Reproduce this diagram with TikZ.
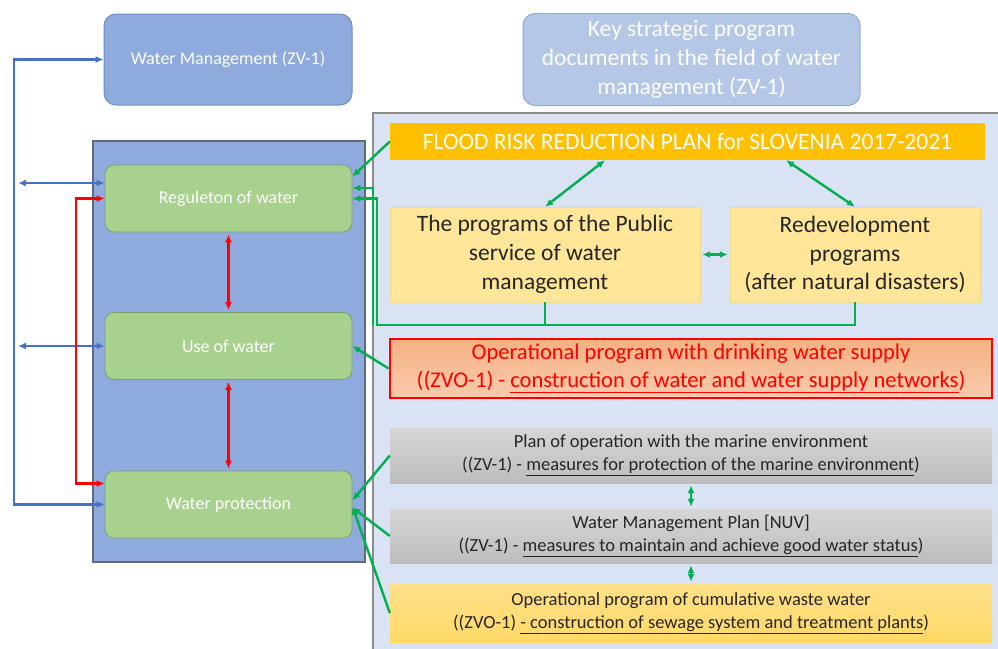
\documentclass[tikz,border=0pt]{standalone}
\usepackage{fontspec}
\setmainfont{Carlito}
\usetikzlibrary{arrows.meta}
\definecolor{wmblue}{HTML}{8FAADC}
\definecolor{wmline}{HTML}{6F8FCB}
\definecolor{keyblue}{HTML}{B4C7E7}
\definecolor{framegray}{HTML}{5E6B7D}
\definecolor{panellight}{HTML}{DAE3F3}
\definecolor{panelline}{HTML}{8C8C8C}
\definecolor{boxgreen}{HTML}{A9D18E}
\definecolor{boxgreenline}{HTML}{7E9E6A}
\definecolor{floodorange}{HTML}{FFC000}
\definecolor{progyellow}{HTML}{FFE699}
\definecolor{progline}{HTML}{F0D98C}
\definecolor{drinktop}{HTML}{F4B183}
\definecolor{drinkbottom}{HTML}{F8CBAD}
\definecolor{graytop}{HTML}{D6D6D6}
\definecolor{graybottom}{HTML}{BDBDBD}
\definecolor{wastetop}{HTML}{FFE08A}
\definecolor{wastebottom}{HTML}{FFD966}
\definecolor{textdark}{HTML}{262626}
\definecolor{arrgreen}{HTML}{00B050}
\definecolor{arrred}{HTML}{FF0000}
\definecolor{arrblue}{HTML}{4472C4}

\begin{document}
\begin{tikzpicture}[x=1pt,y=-1pt,>={Latex[length=8pt,width=7pt]}]

        \useasboundingbox (0,0) rectangle (998,648);

        % background panels
        \filldraw[fill=wmblue,draw=framegray,line width=1.5pt] (93,141) rectangle (365,562);
        \filldraw[fill=panellight,draw=panelline,line width=1.5pt] (373,113) rectangle (1010,660);

        \begin{scope}[every node/.style={rectangle,rounded corners=12pt,draw=wmline,line width=1pt,
            text=white,align=center,inner sep=0pt}]
          \node[fill=wmblue,minimum width=248pt,minimum height=91pt,
            font=\fontsize{18}{22}\selectfont] (wm) at (228,59.5) {Water Management (ZV-1)};
          \node[fill=keyblue,draw=wmblue,minimum width=337pt,minimum height=92pt,
            font=\fontsize{23.5}{28.7}\selectfont] (key) at (691.5,59.5)
            {Key strategic program\\documents in the field of water\\management (ZV-1)};
        \end{scope}

        \begin{scope}[every node/.style={rectangle,rounded corners=9pt,fill=boxgreen,draw=boxgreenline,
            line width=0.8pt,text=white,minimum width=247pt,minimum height=67pt,
            font=\fontsize{18}{22}\selectfont}]
          \node (reg)  at (228.5,198.5) {Reguleton of water};
          \node (use)  at (228.5,346)   {Use of water};
          \node (prot) at (228.5,504.5) {Water protection};
        \end{scope}

        \begin{scope}[every node/.style={rectangle,align=center,inner sep=0pt}]
          \node[fill=floodorange,text=white,minimum width=595pt,minimum height=37pt,
            font=\fontsize{23.5}{28.7}\selectfont] (flood) at (687.5,141.5)
            {FLOOD RISK REDUCTION PLAN for SLOVENIA 2017-2021};
          \node[fill=progyellow,draw=progline,text=textdark,minimum width=310pt,minimum height=95pt,
            font=\fontsize{23.5}{28.7}\selectfont] (prog) at (545,254.5)
            {The programs of the Public\\service of water\\management};
          \node[fill=progyellow,draw=progline,text=textdark,minimum width=250pt,minimum height=95pt,
            font=\fontsize{23.5}{28.7}\selectfont] (redev) at (855,254.5)
            {Redevelopment\\programs\\(after natural disasters)};
          \node[top color=drinktop,bottom color=drinkbottom,draw=arrred,line width=2.8pt,text=arrred,
            minimum width=602pt,minimum height=59pt,
            font=\fontsize{22.5}{27.5}\selectfont] (drink) at (691,368.5)
            {Operational program with drinking water supply\\
             ((ZVO-1) - \underline{construction of water and water supply networks})};
          \node[top color=graytop,bottom color=graybottom,text=textdark,minimum width=602pt,
            minimum height=55pt,font=\fontsize{18.5}{23}\selectfont] (marine) at (691,455.5)
            {Plan of operation with the marine environment\\
             ((ZV-1) - \underline{measures for protection of the marine environment})};
          \node[top color=graytop,bottom color=graybottom,text=textdark,minimum width=602pt,
            minimum height=54pt,font=\fontsize{18.5}{23}\selectfont] (nuv) at (691,536)
            {Water Management Plan [NUV]\\
             ((ZV-1) - \underline{measures to maintain and achieve good water status})};
          \node[top color=wastetop,bottom color=wastebottom,text=textdark,minimum width=602pt,
            minimum height=58pt,font=\fontsize{18.5}{23}\selectfont] (waste) at (691,613)
            {Operational program of cumulative waste water\\
             ((ZVO-1) \underline{- construction of sewage system and treatment plants})};
        \end{scope}

        % free ends of the connectors on the left
        \coordinate (bl)  at (14,504.5);
        \coordinate (bt1) at (18,183);
        \coordinate (bt2) at (18,346);
        \coordinate (rd)  at (76,483.5);
        \coordinate (gc)  at (377,325);

        \begin{scope}[line width=2.4pt]
          \draw[arrblue,<->] (wm.west) -| (bl) -- (prot.west);
          \draw[arrblue,<->] (bt1) -- (reg.west |- bt1);
          \draw[arrblue,<->] (bt2) -- (use.west);
          \draw[arrred,<->,line width=2.8pt] (reg.west) -| (rd) -- (prot.west |- rd);

          \begin{scope}[every edge/.style={draw,arrred,line width=2.6pt,shorten <=2pt,shorten >=2pt}]
            \path (reg.south) edge[<->] (use.north);
            \path (use.south) edge[<->] (prot.north);
          \end{scope}

          \begin{scope}[every edge/.style={draw,arrgreen,line width=2.4pt}]
            \path (flood.west) edge[->] ([yshift=22pt]reg.east);
            \path (flood.south -| 605,0) edge[<->] (prog.north);
            \path (flood.south -| 786,0) edge[<->] (redev.north);
            \path (prog.east) edge[<->,shorten <=2pt,shorten >=2pt] (redev.west);
            \path (drink.west) edge[->] (use.east);
            \path (marine.west) edge[->] ([yshift=4pt]prot.east);
            \path (nuv.west) edge[->] ([yshift=-3pt]prot.east);
            \path (waste.west) edge[->] ([yshift=-2pt]prot.east);
            \path (marine.south) edge[<->,shorten <=2pt,shorten >=2pt] (nuv.north);
            \path (nuv.south) edge[<->,shorten <=2pt,shorten >=2pt] (waste.north);
          \end{scope}

          \draw[arrgreen,->] (redev.south) |- (gc) |- (reg.east);
          \draw[arrgreen] (prog.south) -- (prog.south |- gc);
          \draw[arrgreen,->] ([xshift=-4pt]gc) |- ([yshift=10.5pt]reg.east);
        \end{scope}

      \end{tikzpicture}
\end{document}
